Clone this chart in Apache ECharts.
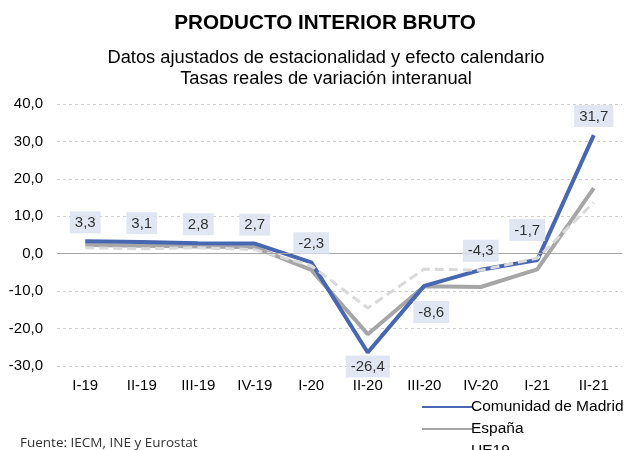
<!DOCTYPE html>
<html>
<head>
<meta charset="utf-8">
<script src="https://cdn.jsdelivr.net/npm/echarts@6/dist/echarts.min.js"></script>
<style>
  html, body { margin: 0; padding: 0; background: #fff; }
  #chart { width: 626px; height: 450px; }
</style>
</head>
<body>
<div id="chart"></div>
<script>
// trimestres
var categories = ['I-19', 'II-19', 'III-19', 'IV-19', 'I-20', 'II-20', 'III-20', 'IV-20', 'I-21', 'II-21'];
var madrid = [3.3, 3.1, 2.8, 2.7, -2.3, -26.4, -8.6, -4.3, -1.7, 31.7];
var espana = [2.3, 2.1, 1.9, 1.7, -4.3, -21.5, -8.7, -8.9, -4.2, 17.5];
var ue19 = [1.6, 1.3, 1.6, 1.1, -3.2, -14.5, -4.1, -4.4, -1.2, 13.7];
var yTicks = [-30, -20, -10, 0, 10, 20, 30, 40];

function fmt(v) { return v.toFixed(1).replace('.', ','); }

// etiquetas que no van encima del punto
var labelFix = {
    5: { position: 'bottom', distance: 3 },
    6: { position: 'bottom', distance: 15, offset: [7, 0] },
    8: { position: 'top', distance: 19, offset: [-10, 0] }
};

var madridLabels = madrid.map(function (v, i) {
    var d = { value: [i, v] };
    if (labelFix[i]) d.label = labelFix[i];
    return d;
});

var chart = echarts.init(document.getElementById('chart'), null, { renderer: 'canvas' });

chart.setOption({
    animation: false,
    title: [
        {
            text: 'PRODUCTO INTERIOR BRUTO',
            left: 320, top: 8, textAlign: 'center',
            textStyle: { fontFamily: 'Liberation Sans', fontSize: 20.7, fontWeight: 'bold', color: '#000' }
        },
        {
            text: 'Datos ajustados de estacionalidad y efecto calendario\nTasas reales de variación interanual',
            left: 321, top: 42, textAlign: 'center',
            textStyle: { fontFamily: 'Liberation Sans', fontSize: 18.3, fontWeight: 'normal', color: '#000', lineHeight: 21, align: 'center' }
        }
    ],
    graphic: [{
        type: 'text', left: 20, top: 436,
        style: { text: 'Fuente: IECM, INE y Eurostat', font: '13.5px "Open Sans"', fill: '#333' }
    }],
    legend: {
        orient: 'vertical', left: 416, top: 393, height: 90,
        itemWidth: 50, itemHeight: 14, itemGap: 4,
        itemStyle: { opacity: 0 },
        data: ['Comunidad de Madrid', 'España', 'UE19'],
        textStyle: { fontFamily: 'Liberation Sans', fontSize: 15.5, color: '#000', lineHeight: 18, padding: [0, 0, 0, -6] }
    },
    grid: { left: 57, right: 4, top: 104, bottom: 84 },
    xAxis: {
        type: 'category',
        data: categories,
        axisLine: { show: false, onZero: false },
        axisTick: { show: false },
        axisLabel: { fontFamily: 'Liberation Sans', fontSize: 15, color: '#000', margin: 12 }
    },
    yAxis: {
        type: 'value',
        min: yTicks[0], max: yTicks[yTicks.length - 1], interval: 10,
        axisLine: { show: false },
        axisTick: { show: false },
        axisLabel: { fontFamily: 'Liberation Sans', fontSize: 15, color: '#000', margin: 14, formatter: fmt },
        splitLine: { lineStyle: { color: '#d0d0d0', type: [3, 3], width: 1 } }
    },
    series: [
        {
            name: 'Comunidad de Madrid',
            type: 'line',
            data: madrid,
            symbol: 'none',
            color: '#4767b2',
            lineStyle: { width: 4, color: '#4767b2' },
            markLine: {
                silent: true, symbol: 'none', label: { show: false },
                lineStyle: { color: '#a6a6a6', type: 'solid', width: 1 },
                data: [{ yAxis: 0 }]
            },
            z: 3
        },
        {
            name: 'España',
            type: 'line',
            data: espana,
            symbol: 'none',
            color: '#a6a6a6',
            lineStyle: { width: 4, color: '#a6a6a6' },
            z: 2
        },
        {
            name: 'UE19',
            type: 'line',
            data: ue19,
            symbol: 'none',
            color: '#d9d9d9',
            lineStyle: { width: 3, color: '#d9d9d9', type: [9, 5] },
            z: 4
        },
        {
            // solo etiquetas de Madrid
            name: 'etiquetas',
            type: 'scatter',
            data: madridLabels,
            symbolSize: 0,
            silent: true,
            z: 10,
            label: {
                show: true, position: 'top', distance: 8,
                formatter: function (p) { return fmt(p.value[1]); },
                fontFamily: 'Liberation Sans', fontSize: 15, color: '#000',
                backgroundColor: '#dae1ef', padding: [4, 5, 3, 5]
            }
        }
    ]
});
</script>
</body>
</html>
